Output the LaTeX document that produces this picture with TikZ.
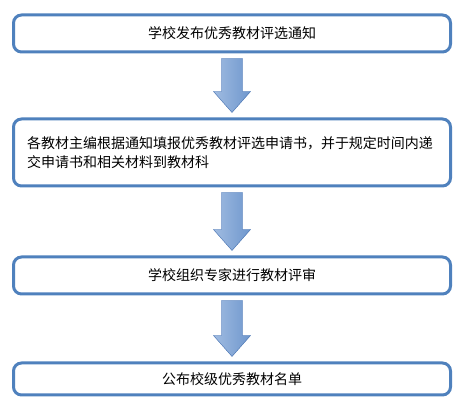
\documentclass[tikz,border=0pt]{standalone}
\usepackage{fontspec}
\usepackage{tikz}
\usetikzlibrary{calc}
\newfontfamily\cjk{Noto Sans CJK SC}
\definecolor{boxblue}{RGB}{79,129,189}
\definecolor{arrowlight}{RGB}{160,188,225}
\definecolor{arrowdark}{RGB}{68,112,176}
\definecolor{arrowmid}{RGB}{110,150,205}
\tikzset{
	stage/.style={draw=boxblue,line width=2.25pt,rounded corners=6pt,fill=white,
		minimum width=327.75pt,inner xsep=10pt,font=\cjk\fontsize{10.5}{14.25}\selectfont},
	flow/.style={left color=arrowlight,middle color=arrowdark,right color=arrowmid,
		draw=arrowdark,line width=0.3pt}
}
% block arrow from the foot of one stage to the head of the next
\newcommand{\flowarrow}[2]{%
	\path[flow] let \p1=(#1.south), \p2=(#2.north) in
		(\x1-7.9pt,\y1-3.75pt) -- (\x1+7.9pt,\y1-3.75pt) -- (\x1+7.9pt,\y2+19.5pt)
		-- (\x1+13.9pt,\y2+19.5pt) -- (\x1,\y2+3.75pt) -- (\x1-13.9pt,\y2+19.5pt)
		-- (\x1-7.9pt,\y2+19.5pt) -- cycle;}
\begin{document}
\begin{tikzpicture}[x=0.75pt,y=-0.75pt]
			\useasboundingbox (0,0) rectangle (461,409);
			\node[stage,minimum height=27.75pt] (notice) at (232,33.5) {学校发布优秀教材评选通知};
			\node[stage,minimum height=50.25pt,text width=307.5pt,align=left] (apply) at (232,152.5)
				{各教材主编根据通知填报优秀教材评选申请书，并于规定时间内递\\交申请书和相关材料到教材科};
			\node[stage,minimum height=27.75pt] (review) at (232,275.5) {学校组织专家进行教材评审};
			\node[stage,minimum height=24pt] (publish) at (232,379) {公布校级优秀教材名单};
			
			\flowarrow{notice}{apply}
			\flowarrow{apply}{review}
			\flowarrow{review}{publish}
		\end{tikzpicture}
\end{document}
